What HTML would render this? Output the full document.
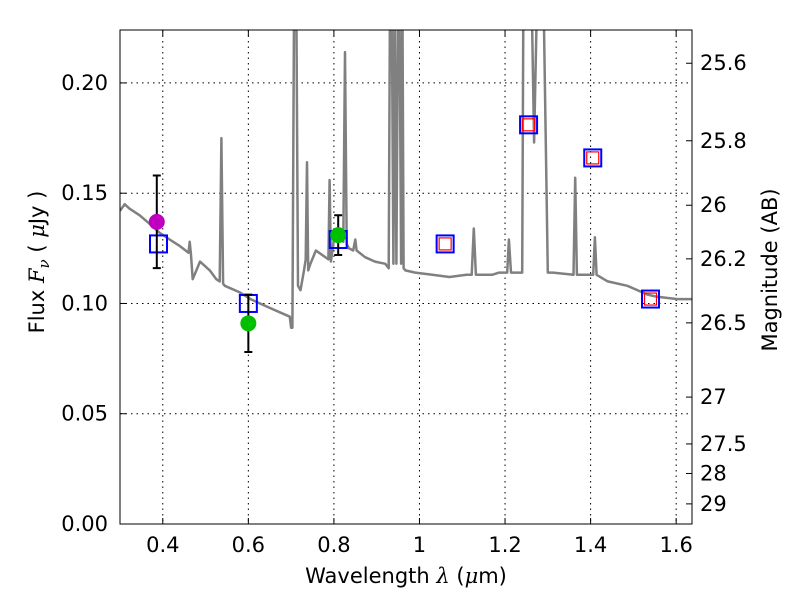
<!DOCTYPE html>
<html><head><meta charset="utf-8"><style>
body{margin:0;background:#fff}
svg text{font-family:"DejaVu Sans","Liberation Sans",sans-serif;fill:#000}
</style></head><body>
<svg id="chart" width="800" height="600" xmlns="http://www.w3.org/2000/svg">
<defs><clipPath id="clip"><rect x="120" y="30" width="572" height="494"/></clipPath></defs>
<rect x="0" y="0" width="800" height="600" fill="#fff"/>
<g id="grid"></g>
<g id="plot" clip-path="url(#clip)"></g>
<rect x="120" y="30" width="572" height="494" fill="none" stroke="#000" stroke-width="1"/>
<g id="axes"></g>
<text x="406" y="583" font-size="21" text-anchor="middle">Wavelength  <tspan font-style="italic" font-family="DejaVu Serif,serif">λ</tspan> (<tspan font-style="italic" font-family="DejaVu Serif,serif">μ</tspan>m)</text>
<text transform="translate(44,262) rotate(-90)" font-size="21" text-anchor="middle">Flux  <tspan font-style="italic" font-family="DejaVu Serif,serif">F</tspan><tspan font-style="italic" font-size="15" dy="5" font-family="DejaVu Serif,serif">ν</tspan><tspan dy="-5">  (  </tspan><tspan font-style="italic" font-family="DejaVu Serif,serif">μ</tspan>Jy )</text>
<text transform="translate(777,270) rotate(-90)" font-size="21" text-anchor="middle">Magnitude (AB)</text>
</svg>
<script>
const xTicks=[0.4,0.6,0.8,1.0,1.2,1.4,1.6];
const xTickLabels=["0.4","0.6","0.8","1","1.2","1.4","1.6"];
const yTicks=[0,0.05,0.1,0.15,0.2];
const yTickLabels=["0.00","0.05","0.10","0.15","0.20"];
const magTicks=[25.6,25.8,26,26.2,26.5,27,27.5,28,29];
const magTickLabels=["25.6","25.8","26","26.2","26.5","27","27.5","28","29"];
const specWave=[0.300,0.311,0.322,0.346,0.370,0.393,0.416,0.440,0.460,0.463,0.466,0.470,0.487,0.510,0.525,0.533,0.537,0.541,0.545,0.580,0.605,0.650,0.697,0.700,0.703,0.707,0.712,0.716,0.722,0.730,0.734,0.737,0.740,0.745,0.758,0.787,0.790,0.793,0.800,0.812,0.822,0.826,0.830,0.835,0.845,0.850,0.853,0.873,0.896,0.920,0.928,0.931,0.935,0.939,0.942,0.946,0.950,0.953,0.957,0.960,0.963,0.967,0.990,1.030,1.070,1.110,1.122,1.127,1.132,1.170,1.186,1.205,1.209,1.214,1.219,1.240,1.243,1.245,1.250,1.262,1.268,1.275,1.280,1.290,1.300,1.312,1.360,1.364,1.368,1.391,1.406,1.410,1.414,1.440,1.486,1.533,1.556,1.603,1.640];
const specFlux=[0.142,0.145,0.143,0.140,0.136,0.132,0.129,0.126,0.123,0.128,0.122,0.111,0.119,0.115,0.111,0.110,0.175,0.109,0.108,0.105,0.102,0.098,0.094,0.089,0.089,0.240,0.240,0.108,0.106,0.115,0.120,0.164,0.115,0.118,0.124,0.120,0.156,0.119,0.129,0.130,0.128,0.214,0.127,0.125,0.124,0.129,0.124,0.121,0.119,0.118,0.116,0.240,0.240,0.118,0.240,0.118,0.240,0.240,0.118,0.240,0.116,0.115,0.114,0.113,0.112,0.113,0.113,0.134,0.113,0.113,0.114,0.114,0.129,0.114,0.114,0.114,0.240,0.240,0.240,0.240,0.173,0.240,0.240,0.240,0.114,0.114,0.113,0.157,0.113,0.113,0.113,0.130,0.113,0.110,0.108,0.104,0.103,0.102,0.102];
const bandWave=[0.39,0.60,0.81,1.06,1.255,1.405,1.54];
const bandFlux=[0.127,0.100,0.129,0.127,0.181,0.166,0.102];
const modelBand=[false,false,false,true,true,true,true];
const obsWave=[0.386,0.60,0.81];
const obsFlux=[0.137,0.091,0.131];
const obsErr=[0.021,0.013,0.009];
const obsColor=["#bf00bf","#00bf00","#00bf00"];

const X0=120,X1=692,Y0=524,Y1=30,xmin=0.30,xmax=1.637,ymin=0,ymax=0.224;
const sx=v=>X0+(v-xmin)/(xmax-xmin)*(X1-X0);
const sy=v=>Y0-(v-ymin)/(ymax-ymin)*(Y0-Y1);
const NS="http://www.w3.org/2000/svg";
function mk(tag,attrs,parent){const e=document.createElementNS(NS,tag);for(const k in attrs)e.setAttribute(k,attrs[k]);parent.appendChild(e);return e;}
const grid=document.getElementById('grid'),plot=document.getElementById('plot'),axes=document.getElementById('axes');
xTicks.forEach((t,i)=>{const x=sx(t);
 const g=mk('line',{x1:x,x2:x,y1:Y1,y2:Y0,stroke:'#000','stroke-dasharray':'1.5,4','stroke-width':1},grid);
 
 
 mk('line',{x1:x,x2:x,y1:Y0,y2:Y0-6,stroke:'#000'},axes);
 mk('line',{x1:x,x2:x,y1:Y1,y2:Y1+6,stroke:'#000'},axes);
 const l=mk('text',{x:x,y:Y0+28,'font-size':21,'text-anchor':'middle'},axes);l.textContent=xTickLabels[i];
 
 
});
yTicks.forEach((t,i)=>{const y=sy(t);
 const g=mk('line',{x1:X0,x2:X1,y1:y,y2:y,stroke:'#000','stroke-dasharray':'1.5,4','stroke-width':1},grid);
 
 
 mk('line',{x1:X0,x2:X0+6,y1:y,y2:y,stroke:'#000'},axes);
 const l=mk('text',{x:X0-12,y:y+7,'font-size':21,'text-anchor':'end'},axes);l.textContent=yTickLabels[i];
 
 
});
magTicks.forEach((m,i)=>{const f=Math.pow(10,(23.9-m)/2.5);const y=sy(f);
 mk('line',{x1:X1,x2:X1-6,y1:y,y2:y,stroke:'#000'},axes);
 const l=mk('text',{x:X1+8,y:y+7,'font-size':21},axes);l.textContent=magTickLabels[i];
 
 
});
const d=specWave.map((w,i)=>(i?'L':'M')+sx(w).toFixed(1)+','+sy(specFlux[i]).toFixed(1)).join(' ');
const sp=mk('path',{d:d,fill:'none',stroke:'#808080','stroke-width':2.5,'stroke-linejoin':'round'},plot);


bandWave.forEach((w,i)=>{const x=sx(w),y=sy(bandFlux[i]);
 const b=mk('rect',{x:x-8.5,y:y-8.5,width:17,height:17,fill:'none',stroke:'#0000ff','stroke-width':2},plot);
 
 
 if(modelBand[i]){const r=mk('rect',{x:x-6,y:y-6,width:12,height:12,fill:'none',stroke:'#ff0000','stroke-width':1.2},plot);
  
  }
});
obsWave.forEach((w,i)=>{const x=sx(w),y=sy(obsFlux[i]),yt=sy(obsFlux[i]+obsErr[i]),yb=sy(obsFlux[i]-obsErr[i]);
 const e=mk('path',{d:`M${x},${yt}L${x},${yb}M${x-4},${yt}L${x+4},${yt}M${x-4},${yb}L${x+4},${yb}`,stroke:'#000','stroke-width':2,fill:'none'},plot);
 
 
 const c=mk('circle',{cx:x,cy:y,r:8,fill:obsColor[i]},plot);
 
 
});
</script>
</body></html>
